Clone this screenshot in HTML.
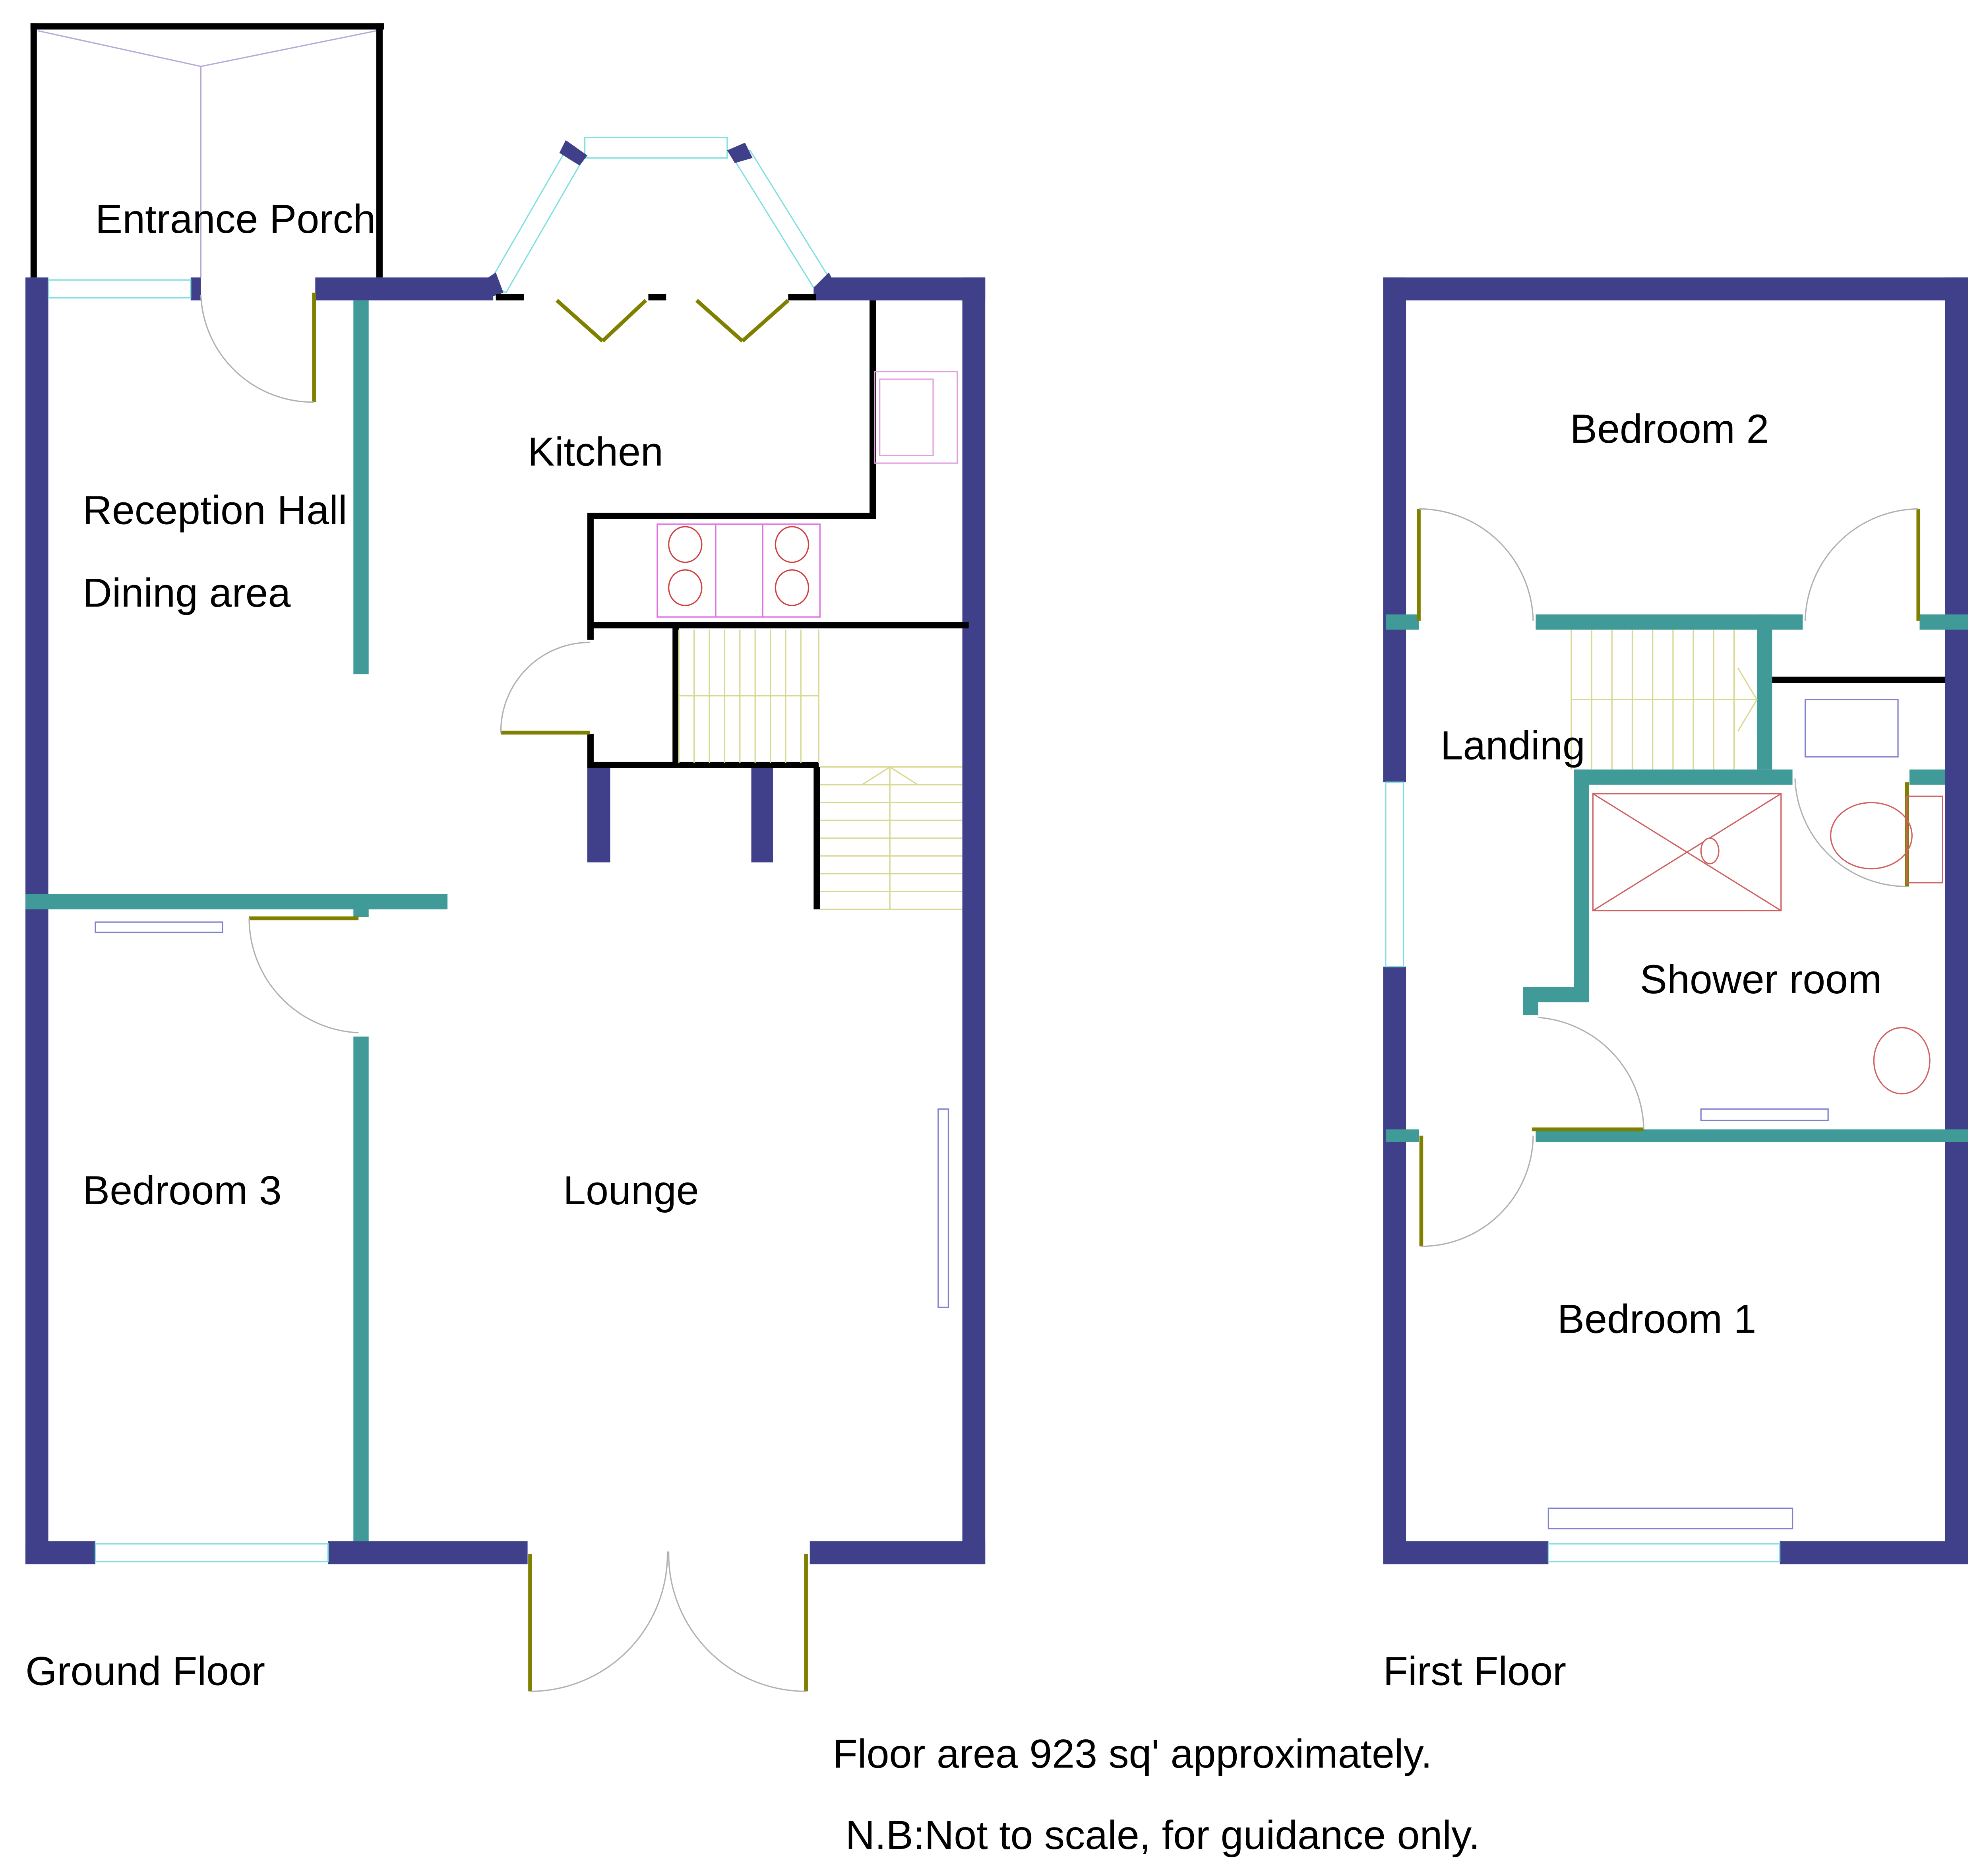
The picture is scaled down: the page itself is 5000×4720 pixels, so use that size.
<!DOCTYPE html>
<html><head><style>html,body{margin:0;padding:0;background:#fff}svg{display:block}</style></head>
<body>
<svg width="5000" height="4720" viewBox="0 0 1563 1475" xmlns="http://www.w3.org/2000/svg" font-family="Liberation Sans, Arial, sans-serif">
<g fill="#3f3f8a">
<!-- ground floor outer -->
<rect x="20" y="218" width="18" height="1012"/>
<rect x="20" y="1212" width="55" height="18"/>
<rect x="258" y="1212" width="157" height="18"/>
<rect x="637" y="1212" width="138" height="18"/>
<rect x="757" y="218" width="18" height="1012"/>
<rect x="640" y="218" width="135" height="18"/>
<rect x="248" y="218" width="140" height="18"/>
<rect x="150" y="218" width="8" height="18"/>
<rect x="462" y="603" width="18" height="75"/>
<rect x="591" y="603" width="17" height="75"/>
<!-- first floor outer -->
<rect x="1088" y="218" width="460" height="18"/>
<rect x="1088" y="218" width="18" height="397"/>
<rect x="1088" y="760" width="18" height="470"/>
<rect x="1530" y="218" width="18" height="1012"/>
<rect x="1088" y="1212" width="130" height="18"/>
<rect x="1400" y="1212" width="148" height="18"/>
</g>
<!-- windows -->
<g fill="#fff" stroke="#7fe0e0" stroke-width="1">
<rect x="38" y="220" width="112" height="14"/>
<rect x="75" y="1214" width="183" height="14"/>
<rect x="1218" y="1214" width="182" height="14"/>
<rect x="1090" y="615" width="14" height="145"/>
<rect x="460" y="108" width="112" height="16"/>
<polygon points="385,222 445,118 458,126 398,230"/>
<polygon points="578,126 590,118 652,218 640,226"/>
</g>
<g fill="#3f3f8a">
<polygon points="445,110 462,122 456,130 440,120"/>
<polygon points="572,118 586,112 592,124 578,128"/>
<polygon points="378,222 390,214 396,230 384,234"/>
<polygon points="640,226 652,214 658,226 646,234"/>
</g>
<!-- teal walls -->
<g fill="#3f9a98">
<rect x="278" y="236" width="12" height="294"/>
<rect x="20" y="703" width="332" height="12"/>
<rect x="278" y="715" width="12" height="6"/>
<rect x="278" y="815" width="12" height="397"/>
<rect x="1208" y="483" width="210" height="12"/>
<rect x="1382" y="483" width="12" height="122"/>
<rect x="1238" y="605" width="172" height="12"/>
<rect x="1502" y="605" width="28" height="12"/>
<rect x="1238" y="605" width="12" height="183"/>
<rect x="1198" y="776" width="50" height="12"/>
<rect x="1198" y="776" width="12" height="22"/>
<rect x="1208" y="888" width="340" height="10"/>
<rect x="1090" y="483" width="26" height="12"/>
<rect x="1090" y="888" width="26" height="10"/>
<rect x="1510" y="483" width="38" height="12"/>
</g>
<!-- black walls -->
<g fill="#000">
<rect x="24" y="18" width="278" height="5"/>
<rect x="24" y="18" width="5" height="200"/>
<rect x="296" y="18" width="5" height="200"/>
<rect x="390" y="231" width="22" height="5"/>
<rect x="510" y="231" width="14" height="5"/>
<rect x="620" y="231" width="22" height="5"/>
<rect x="684" y="236" width="5" height="171"/>
<rect x="462" y="403" width="227" height="5"/>
<rect x="462" y="408" width="5" height="95"/>
<rect x="466" y="489" width="296" height="5"/>
<rect x="529" y="493" width="5" height="110"/>
<rect x="462" y="599" width="182" height="5"/>
<rect x="462" y="577" width="5" height="26"/>
<rect x="640" y="603" width="5" height="112"/>
<rect x="1394" y="532" width="136" height="5"/>
</g>
<!-- porch interior lines -->
<g stroke="#b8a8d8" stroke-width="1" fill="none">
<line x1="30" y1="24" x2="158" y2="52"/><line x1="296" y1="24" x2="158" y2="52"/><line x1="158" y1="52" x2="158" y2="218"/>
</g>
<!-- doors -->
<g stroke="#808000" stroke-width="3" fill="none">
<line x1="247" y1="230" x2="247" y2="316"/>
<line x1="438" y1="236" x2="474" y2="268"/><line x1="474" y1="268" x2="508" y2="236"/>
<line x1="548" y1="236" x2="584" y2="268"/><line x1="584" y1="268" x2="620" y2="236"/>
<line x1="394" y1="576" x2="464" y2="576"/>
<line x1="196" y1="722" x2="282" y2="722"/>
<line x1="417" y1="1222" x2="417" y2="1330"/>
<line x1="634" y1="1222" x2="634" y2="1330"/>
<line x1="1116" y1="400" x2="1116" y2="488"/>
<line x1="1509" y1="400" x2="1509" y2="488"/>
<line x1="1500" y1="615" x2="1500" y2="697"/>
<line x1="1205" y1="888" x2="1293" y2="888"/>
<line x1="1118" y1="893" x2="1118" y2="980"/>
</g>
<g stroke="#b0b0b0" stroke-width="1" fill="none">
<path d="M158 232 A88 88 0 0 0 247 316"/>
<path d="M394 576 A70 70 0 0 1 464 505"/>
<path d="M196 722 A90 90 0 0 0 282 812"/>
<path d="M417 1330 A108 108 0 0 0 525 1220"/>
<path d="M634 1330 A108 108 0 0 1 526 1220"/>
<path d="M1116 400 A90 90 0 0 1 1206 488"/>
<path d="M1509 400 A90 90 0 0 0 1420 488"/>
<path d="M1500 697 A88 88 0 0 1 1412 612"/>
<path d="M1293 888 A90 90 0 0 0 1210 800"/>
<path d="M1118 980 A88 88 0 0 0 1206 893"/>
</g>
<!-- stairs -->
<g stroke="#d8d890" stroke-width="1" fill="none">
<path d="M534 495 V600 M546 495V600 M558 495V600 M570 495V600 M582 495V600 M594 495V600 M606 495V600 M618 495V600 M630 495V600 M644 495V600 M534 547H644"/>
<path d="M645 603H757 M645 617H757 M645 631H757 M645 645H757 M645 659H757 M645 673H757 M645 687H757 M645 701H757 M645 715H757 M700 603V715 M678 617L700 603L722 617"/>
<path d="M1236 495V605 M1252 495V605 M1268 495V605 M1284 495V605 M1300 495V605 M1316 495V605 M1332 495V605 M1348 495V605 M1364 495V605 M1236 550H1382 M1367 525L1382 550L1367 575"/>
</g>
<!-- fixtures -->
<g fill="none" stroke-width="1">
<rect x="688" y="292" width="65" height="72" stroke="#e0a0e0"/>
<rect x="692" y="298" width="42" height="60" stroke="#e0a0e0"/>
<rect x="517" y="412" width="128" height="73" stroke="#e070e0"/>
<line x1="563" y1="412" x2="563" y2="485" stroke="#e070e0"/><line x1="600" y1="412" x2="600" y2="485" stroke="#e070e0"/>
<g stroke="#d04040"><ellipse cx="539" cy="428" rx="13" ry="14"/><ellipse cx="539" cy="462" rx="13" ry="14"/><ellipse cx="623" cy="428" rx="13" ry="14"/><ellipse cx="623" cy="462" rx="13" ry="14"/></g>
<rect x="75" y="725" width="100" height="8" stroke="#8080d0"/>
<rect x="738" y="872" width="8" height="156" stroke="#8080d0"/>
<rect x="1218" y="1186" width="192" height="16" stroke="#8080d0"/>
<rect x="1338" y="872" width="100" height="9" stroke="#8080d0"/>
<rect x="1420" y="550" width="73" height="45" stroke="#8080d0"/>
<g stroke="#d06060"><rect x="1253" y="624" width="148" height="92"/><line x1="1253" y1="624" x2="1401" y2="716"/><line x1="1401" y1="624" x2="1253" y2="716"/><ellipse cx="1345" cy="669" rx="7" ry="10" fill="#fff"/>
<ellipse cx="1472" cy="657" rx="32" ry="26"/><rect x="1500" y="626" width="28" height="68"/><ellipse cx="1496" cy="834" rx="22" ry="26"/></g>
</g>
<!-- labels -->
<g font-size="32" fill="#000">
<text x="75" y="183">Entrance Porch</text>
<text x="415" y="366">Kitchen</text>
<text x="65" y="412">Reception Hall</text>
<text x="65" y="477">Dining area</text>
<text x="65" y="947">Bedroom 3</text>
<text x="443" y="947">Lounge</text>
<text x="1235" y="348">Bedroom 2</text>
<text x="1133" y="597">Landing</text>
<text x="1290" y="781">Shower room</text>
<text x="1225" y="1048">Bedroom 1</text>
<text x="20" y="1325">Ground Floor</text>
<text x="1088" y="1325">First Floor</text>
<text x="655" y="1390">Floor area 923 sq' approximately.</text>
<text x="665" y="1454">N.B:Not to scale, for guidance only.</text>
</g>
</svg>
</body></html>
